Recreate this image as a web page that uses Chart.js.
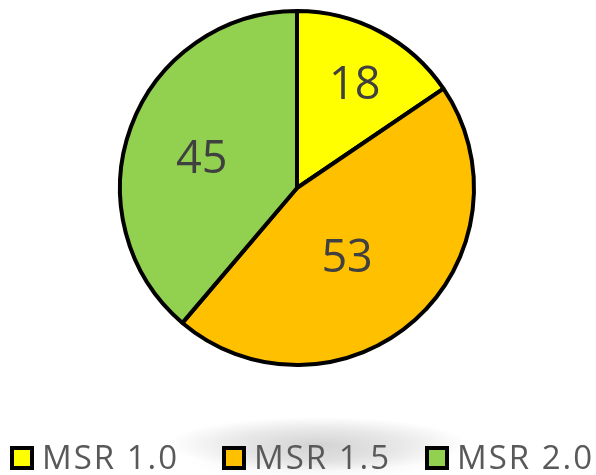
<!DOCTYPE html>
<html>
<head>
<meta charset="utf-8">
<script src="https://cdn.jsdelivr.net/npm/chart.js@4.4.1/dist/chart.umd.min.js"></script>
<style>
  html, body { margin: 0; padding: 0; background: #ffffff; }
  #wrap { width: 596px; height: 475px; position: relative; }
</style>
</head>
<body>
<div id="wrap"><canvas id="c" width="596" height="475"></canvas></div>
<script>
const categories = ["MSR 1.0", "MSR 1.5", "MSR 2.0"];
const values = [18, 53, 45];
const colors = ["#FFFF00", "#FFC000", "#92D050"];

const shadowPlugin = {
  id: 'legendShadow',
  beforeDraw(chart) {
    const ctx = chart.ctx;
    ctx.save();
    ctx.translate(318, 444);
    ctx.scale(1, 0.18);
    const g = ctx.createRadialGradient(0, 0, 0, 0, 0, 150);
    g.addColorStop(0, 'rgba(0,0,0,0.17)');
    g.addColorStop(0.55, 'rgba(0,0,0,0.09)');
    g.addColorStop(1, 'rgba(0,0,0,0)');
    ctx.fillStyle = g;
    ctx.beginPath();
    ctx.arc(0, 0, 150, 0, Math.PI * 2);
    ctx.fill();
    ctx.restore();
    ctx.save();
    ctx.translate(318, 462);
    ctx.scale(1, 0.15);
    const g3 = ctx.createRadialGradient(0, 0, 0, 0, 0, 130);
    g3.addColorStop(0, 'rgba(0,0,0,0.05)');
    g3.addColorStop(1, 'rgba(0,0,0,0)');
    ctx.fillStyle = g3;
    ctx.beginPath();
    ctx.arc(0, 0, 130, 0, Math.PI * 2);
    ctx.fill();
    ctx.restore();
  }
};

const labelPlugin = {
  id: 'sliceLabels',
  afterDatasetsDraw(chart, args, opts) {
    const ctx = chart.ctx;
    const meta = chart.getDatasetMeta(0);
    ctx.save();
    ctx.font = opts.font;
    ctx.fillStyle = opts.color;
    ctx.textAlign = 'center';
    ctx.textBaseline = 'middle';
    meta.data.forEach((arc, i) => {
      const p = arc.getProps(['x', 'y', 'startAngle', 'endAngle', 'outerRadius'], true);
      const mid = (p.startAngle + p.endAngle) / 2 + (opts.angleOffsets[i] || 0) * Math.PI / 180;
      const r = p.outerRadius * opts.radiusFractions[i];
      ctx.fillText(String(chart.data.datasets[0].data[i]), p.x + Math.cos(mid) * r, p.y + Math.sin(mid) * r);
    });
    ctx.restore();
  }
};

const legendPlugin = {
  id: 'customLegend',
  afterDraw(chart, args, opts) {
    const ctx = chart.ctx;
    const ds = chart.data.datasets[0];
    ctx.save();
    ctx.font = opts.font;
    ctx.textBaseline = 'alphabetic';
    ctx.textAlign = 'left';
    try { ctx.letterSpacing = opts.letterSpacing; } catch (e) {}
    chart.data.labels.forEach((lab, i) => {
      const x = opts.starts[i];
      const y = opts.boxTop;
      ctx.fillStyle = ds.backgroundColor[i];
      ctx.fillRect(x + 2, y + 2, opts.boxSize - 4, opts.boxSize - 4);
      ctx.lineWidth = 4;
      ctx.strokeStyle = '#000000';
      ctx.strokeRect(x + 2, y + 2, opts.boxSize - 4, opts.boxSize - 4);
      ctx.fillStyle = opts.color;
      ctx.fillText(lab, x + opts.boxSize + opts.textGap, opts.baseline);
    });
    ctx.restore();
  }
};

new Chart(document.getElementById('c'), {
  type: 'pie',
  data: {
    labels: categories,
    datasets: [{
      data: values,
      backgroundColor: colors,
      borderColor: '#000000',
      borderWidth: 4,
      hoverOffset: 0
    }]
  },
  options: {
    responsive: false,
    animation: false,
    radius: 177,
    layout: { padding: { left: 0, right: 2, top: 0, bottom: 99 } },
    plugins: {
      legend: { display: false },
      tooltip: { enabled: false },
      sliceLabels: {
        font: '45px "Open Sans"',
        color: '#404040',
        radiusFractions: [0.66, 0.49, 0.56],
        angleOffsets: [1.7, 6.6, -3.9]
      },
      customLegend: {
        font: '33px "Open Sans"',
        color: '#595959',
        letterSpacing: '2px',
        starts: [10, 222, 425],
        boxTop: 446,
        boxSize: 24,
        textGap: 8,
        baseline: 469
      }
    }
  },
  plugins: [shadowPlugin, labelPlugin, legendPlugin]
});
</script>
</body>
</html>
